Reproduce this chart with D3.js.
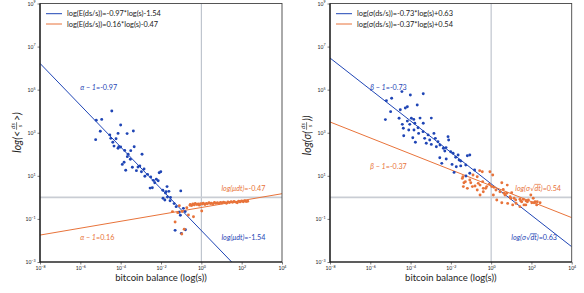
<!DOCTYPE html>
<meta charset="utf-8" />
<script src="https://d3js.org/d3.v7.min.js"></script>
<style>
	body { margin: 0; background: #fff; }
	svg { font-family: Lato, "Open Sans", sans-serif; }
</style>
<div id="my_dataviz"></div>
<script>
	// tick exponents (log10)
	var xTickExp = [-8, -6, -4, -2, 0, 2, 4];
	var yTickExp = [-3, -1, 1, 3, 5, 7, 9];

	// fitted lines in log10 space: [blue, orange]
	var meanSlopes = [-0.97, 0.16];
	var meanIntercepts = [-1.54, -0.47];
	var sdSlopes = [-0.73, -0.37];
	var sdIntercepts = [0.63, 0.54];

	var meanLegend = ["log(E(ds/s))=-0.97*log(s)-1.54", "log(E(ds/s))=0.16*log(s)-0.47"];
	var sdLegend = ["log(σ(ds/s))=-0.73*log(s)+0.63", "log(σ(ds/s))=-0.37*log(s)+0.54"];

	// scatter points as [log10(s), log10(value)]
	var meanBlue = [
		[-4.44, 4.01], [-4.94, 3.62], [-5.21, 3.58], [-5.01, 3.07], [-5.24, 2.68], [-4.00, 3.36],
		[-3.37, 3.08], [-4.13, 2.97], [-3.68, 2.96], [-4.54, 2.90], [-4.49, 2.74], [-4.23, 2.72],
		[-4.39, 2.56], [-4.33, 2.38], [-4.09, 2.35], [-4.00, 2.34], [-3.33, 2.35], [-3.80, 2.18],
		[-3.50, 2.17], [-4.13, 2.28], [-3.63, 2.00], [-3.67, 1.89], [-2.94, 2.00], [-3.83, 1.63],
		[-3.92, 1.53], [-3.52, 1.77], [-3.42, 1.40], [-3.75, 1.26], [-3.14, 1.41], [-3.05, 1.46],
		[-3.22, 1.24], [-2.97, 1.19], [-2.84, 1.32], [-2.67, 1.07], [-2.51, 0.95], [-2.38, 0.79],
		[-2.23, 0.84], [-2.09, 1.14], [-2.01, 1.19], [-2.80, 0.98], [-2.54, 0.43], [-2.43, 0.45],
		[-2.14, 0.77], [-2.31, 0.68], [-1.70, 0.50], [-1.91, 0.33], [-1.61, 0.28], [-1.78, 0.20],
		[-1.90, -0.04], [-1.81, -0.12], [-1.53, 0.00], [-1.02, 0.30], [-1.35, -0.29], [-1.25, -0.43],
		[-1.04, -0.83], [-1.30, -1.53], [-0.99, -1.67], [-0.79, -1.50], [-1.75, 0.26], [-1.68, 0.02],
		[-1.55, -0.16], [-0.89, -0.51], [-0.80, -0.66], [-1.10, -0.69]
	];
	var meanOrange = [
		[-1.43, -0.66], [-1.30, -1.14], [-0.85, -1.48], [-0.97, -1.70], [-1.17, -0.71], [-0.95, -0.66],
		[-0.64, -0.82], [-0.39, -0.90], [0.02, -0.63], [-0.56, -0.37], [-0.72, -0.48], [-1.09, -0.39],
		[-0.55, -0.33], [-0.48, -0.38], [-0.42, -0.30], [-0.35, -0.35], [-0.30, -0.28], [-0.22, -0.33],
		[-0.15, -0.30], [-0.10, -0.36], [-0.03, -0.29], [0.05, -0.31], [0.10, -0.27], [0.18, -0.33],
		[0.25, -0.28], [0.30, -0.30], [0.38, -0.25], [0.45, -0.29], [0.50, -0.27], [0.58, -0.30],
		[0.65, -0.24], [0.72, -0.27], [0.80, -0.25], [0.88, -0.29], [0.95, -0.23], [1.02, -0.26],
		[1.10, -0.22], [1.18, -0.25], [1.25, -0.27], [1.32, -0.21], [1.40, -0.24], [1.48, -0.20],
		[1.55, -0.23], [1.62, -0.19], [1.70, -0.22], [1.78, -0.25], [1.85, -0.18], [1.92, -0.21],
		[2.00, -0.17], [2.08, -0.20], [2.15, -0.16], [2.22, -0.19], [2.30, -0.18]
	];
	var sdBlue = [
		[-5.20, 4.49], [-4.94, 4.60], [-4.43, 4.91], [-4.01, 4.75], [-3.37, 4.81], [-5.25, 3.61],
		[-4.99, 3.98], [-4.51, 4.07], [-4.26, 4.15], [-4.16, 4.21], [-3.67, 4.29], [-4.57, 3.67],
		[-4.16, 3.54], [-3.96, 3.67], [-3.84, 3.62], [-3.53, 3.68], [-2.97, 3.68], [-4.41, 3.39],
		[-4.36, 3.21], [-4.04, 3.39], [-3.79, 3.44], [-3.63, 3.23], [-3.83, 3.13], [-3.37, 3.44],
		[-4.09, 3.13], [-4.34, 2.86], [-3.89, 2.77], [-3.60, 2.97], [-3.38, 3.05], [-3.13, 2.90],
		[-2.84, 2.97], [-3.30, 2.74], [-3.22, 2.51], [-3.76, 2.56], [-3.05, 2.66], [-2.97, 2.46],
		[-2.77, 2.74], [-2.64, 2.58], [-2.54, 2.43], [-2.72, 2.35], [-2.37, 2.28], [-2.24, 2.31],
		[-2.14, 2.82], [-2.11, 2.66], [-2.30, 2.15], [-2.01, 2.12], [-1.89, 2.05], [-1.64, 1.97],
		[-1.76, 1.86], [-2.23, 1.78], [-2.55, 1.84], [-1.51, 1.69], [-1.18, 1.93], [-1.06, 1.97],
		[-1.94, 1.53], [-1.73, 1.42], [-1.51, 1.46], [-1.26, 1.50], [-2.45, 1.58], [-1.84, 1.16],
		[-1.06, 1.12], [-0.82, 1.27], [-1.25, 0.99], [-1.59, 1.73]
	];
	var sdOrange = [
		[-1.43, 0.88], [-1.40, 0.96], [-1.35, 0.68], [-1.28, 0.73], [-1.38, 0.50], [-1.18, 0.42],
		[-1.06, 0.81], [-1.01, 0.68], [-0.90, 1.04], [-0.93, 0.50], [-0.80, 0.53], [-0.69, 0.96],
		[-0.57, 1.24], [-0.64, 0.65], [-0.69, 0.34], [-0.55, 0.57], [-0.55, 0.11], [-0.44, 1.19],
		[-0.42, 0.73], [-0.39, 0.42], [-0.39, 0.26], [-0.27, 0.42], [-0.22, 0.50], [-0.09, 0.61],
		[-0.06, 1.19], [0.08, 1.04], [0.03, 0.50], [0.14, 0.47], [0.11, 0.11], [0.24, 0.34],
		[0.28, -0.12], [0.44, 0.26], [0.53, 0.68], [0.60, 0.37], [0.53, -0.25], [0.64, 0.19],
		[0.69, 0.11], [0.77, 0.19], [0.80, 0.57], [0.82, -0.28], [0.94, 0.03], [0.97, -0.04],
		[1.02, 0.22], [1.07, -0.35], [1.14, -0.04], [1.22, -0.12], [1.24, -0.28], [1.43, -0.09],
		[1.43, -0.43], [1.47, -0.17], [1.52, -0.20], [1.60, -0.09], [1.63, -0.35], [1.72, -0.35],
		[1.73, -0.16], [1.80, -0.20], [1.85, -0.12], [1.97, 0.11], [2.02, -0.25], [2.09, -0.04],
		[2.13, -0.25], [2.18, -0.20], [2.26, -0.35], [2.29, -0.20], [2.43, -0.25]
	];

	var blue = "#1f45b5", orange = "#e8733a";
	var width = 584, height = 293;
	var plotTop = 3.5, plotBottom = 262;

	var svg = d3.select("#my_dataviz").append("svg")
		.attr("width", width).attr("height", height);

	function pow10(v) { return Math.pow(10, v); }

	function supLabel(sel) {
		sel.each(function (d) {
			var t = d3.select(this);
			var e = Math.round(Math.log10(d));
			t.text("10");
			t.append("tspan").attr("dy", -2.2).attr("font-size", 3.6)
				.text(e < 0 ? "\u2212" + (-e) : e);
		});
	}

	function drawPanel(opt) {
		var x = d3.scaleLog().domain([1e-8, 1e4]).range([opt.x0, opt.x1]);
		var y = d3.scaleLog().domain([1e-3, 1e9]).range([plotBottom, plotTop]);
		var g = svg.append("g");

		g.append("clipPath").attr("id", opt.id)
			.append("rect").attr("x", opt.x0).attr("y", plotTop)
			.attr("width", opt.x1 - opt.x0).attr("height", plotBottom - plotTop);

		// reference lines at 10^0
		g.append("line").attr("x1", x(1)).attr("x2", x(1)).attr("y1", plotTop).attr("y2", plotBottom)
			.attr("stroke", "#b3bac4").attr("stroke-width", 1);
		g.append("line").attr("x1", opt.x0).attr("x2", opt.x1).attr("y1", y(1)).attr("y2", y(1))
			.attr("stroke", "#c9cdd4").attr("stroke-width", 1.6);

		var plot = g.append("g").attr("clip-path", "url(#" + opt.id + ")");

		// fitted lines
		var colors = [blue, orange];
		opt.slopes.forEach(function (m, i) {
			var b = opt.intercepts[i];
			plot.append("line")
				.attr("x1", x(1e-8)).attr("y1", y(pow10(m * -8 + b)))
				.attr("x2", x(1e4)).attr("y2", y(pow10(m * 4 + b)))
				.attr("stroke", colors[i]).attr("stroke-width", 1);
		});

		// scatter
		[[opt.blue, blue], [opt.orange, orange]].forEach(function (s) {
			plot.selectAll(null).data(s[0]).join("circle")
				.attr("cx", d => x(pow10(d[0])))
				.attr("cy", d => y(pow10(d[1])))
				.attr("r", 1.45)
				.attr("fill", s[1]);
		});

		// axes
		var xa = g.append("g").attr("transform", "translate(0," + plotBottom + ")")
			.call(d3.axisBottom(x).tickValues(xTickExp.map(pow10)).tickSize(2.5).tickPadding(2));
		var ya = g.append("g").attr("transform", "translate(" + opt.x0 + ",0)")
			.call(d3.axisLeft(y).tickValues(yTickExp.map(pow10)).tickSize(2.5).tickPadding(2));
		[xa, ya].forEach(function (a) {
			a.select(".domain").remove();
			a.selectAll(".tick line").attr("stroke", "#222").attr("stroke-width", 0.6);
			a.selectAll(".tick text").attr("font-size", 5).attr("fill", "#222")
				.attr("font-family", "Lato, sans-serif").call(supLabel);
		});

		// frame
		g.append("rect").attr("x", opt.x0).attr("y", plotTop)
			.attr("width", opt.x1 - opt.x0).attr("height", plotBottom - plotTop)
			.attr("fill", "none").attr("stroke", "#444").attr("stroke-width", 0.9);
		g.append("path")
			.attr("d", "M" + opt.x0 + "," + plotTop + "V" + plotBottom + "H" + opt.x1)
			.attr("fill", "none").attr("stroke", "#111").attr("stroke-width", 1.2);

		// legend
		opt.legend.forEach(function (t, i) {
			var ly = 13.7 + i * 10.3;
			g.append("line").attr("x1", opt.x0 + 6).attr("x2", opt.x0 + 22)
				.attr("y1", ly).attr("y2", ly)
				.attr("stroke", colors[i]).attr("stroke-width", 1);
			g.append("text").attr("x", opt.x0 + 27).attr("y", ly + 2.5)
				.attr("font-size", 7.4).attr("fill", "#222").text(t);
		});

		// x label
		g.append("text").attr("x", (opt.x0 + opt.x1) / 2).attr("y", 280.5)
			.attr("text-anchor", "middle").attr("font-size", 9.5).attr("fill", "#222")
			.text("bitcoin balance (log(s))");

		// annotations
		opt.notes.forEach(function (n) {
			var t = g.append("text")
				.attr("x", x(pow10(n.lx))).attr("y", y(pow10(n.ly)))
				.attr("font-size", 7.2).attr("font-style", "italic")
				.attr("fill", n.c);
			n.parts.forEach(function (p) {
				var ts = t.append("tspan").text(p[0]);
				if (p[1] === "over") ts.attr("text-decoration", "overline");
				if (p[1] === "up") ts.attr("font-style", "normal");
			});
		});

		return { x: x, y: y };
	}

	drawPanel({
		id: "clipL", x0: 40, x1: 282,
		slopes: meanSlopes, intercepts: meanIntercepts,
		blue: meanBlue, orange: meanOrange, legend: meanLegend,
		notes: [
			{ lx: -6, ly: 5, c: blue, parts: [["α \u2212 1", ""], ["=-0.97", "up"]] },
			{ lx: -6, ly: -2, c: orange, parts: [["α \u2212 1", ""], ["=0.16", "up"]] },
			{ lx: 1, ly: 0.3, c: orange, parts: [["log(μdt)", ""], ["=-0.47", "up"]] },
			{ lx: 1, ly: -2, c: blue, parts: [["log(μdt)", ""], ["=-1.54", "up"]] }
		]
	});

	drawPanel({
		id: "clipR", x0: 330, x1: 571.7,
		slopes: sdSlopes, intercepts: sdIntercepts,
		blue: sdBlue, orange: sdOrange, legend: sdLegend,
		notes: [
			{ lx: -6, ly: 5, c: blue, parts: [["β \u2212 1", ""], ["=-0.73", "up"]] },
			{ lx: -6, ly: 1.3, c: orange, parts: [["β \u2212 1", ""], ["=-0.37", "up"]] },
			{ lx: 1.2, ly: 0.3, c: orange, parts: [["log(σ√", ""], ["dt", "over"], [")", ""], ["=0.54", "up"]] },
			{ lx: 1.0, ly: -2, c: blue, parts: [["log(σ√", ""], ["dt", "over"], [")", ""], ["=0.63", "up"]] }
		]
	});

	// rotated y labels with a small fraction ds/s
	function yLabel(cx, cy, before, after) {
		var g = svg.append("g").attr("transform", "translate(" + cx + "," + cy + ") rotate(-90)")
			.attr("font-style", "italic").attr("fill", "#222");
		g.append("text").attr("x", -5).attr("y", 3.5).attr("text-anchor", "end")
			.attr("font-size", 10.5).text(before);
		g.append("text").attr("x", 0).attr("y", -1.6).attr("text-anchor", "middle")
			.attr("font-size", 6.5).text("ds");
		g.append("line").attr("x1", -3.8).attr("x2", 3.8).attr("y1", -0.4).attr("y2", -0.4)
			.attr("stroke", "#222").attr("stroke-width", 0.6);
		g.append("text").attr("x", 0).attr("y", 4.9).attr("text-anchor", "middle")
			.attr("font-size", 6.5).text("s");
		g.append("text").attr("x", 5).attr("y", 3.5).attr("text-anchor", "start")
			.attr("font-size", 10.5).text(after);
	}
	yLabel(17, 126, "log(<", ">)");
	yLabel(307, 126, "log(σ(", "))");
</script>
